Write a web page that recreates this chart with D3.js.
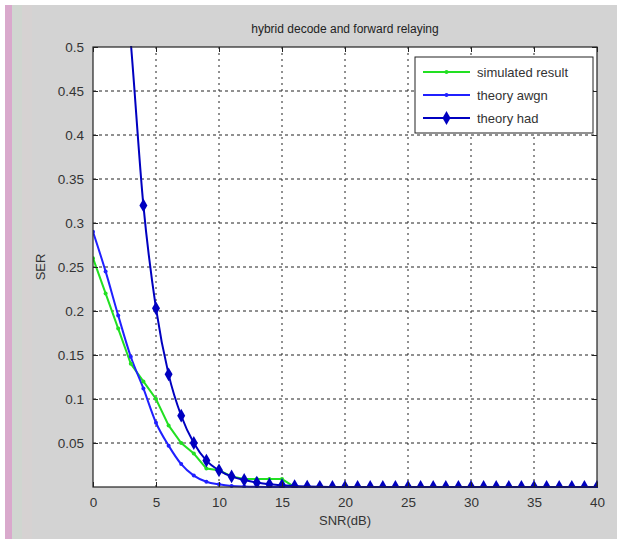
<!DOCTYPE html>
<html><head><meta charset="utf-8">
<script src="https://cdn.jsdelivr.net/npm/d3@7"></script>
<style>body{margin:0;padding:0;background:#fff;}svg{display:block;}</style>
</head><body>
<svg id="chart" width="617" height="539"></svg>
<script>
const snr = [0,1,2,3,4,5,6,7,8,9,10,11,12,13,14,15,16,17,18,19,20,21,22,23,24,25,26,27,28,29,30,31,32,33,34,35,36,37,38,39,40];
const simulated = [0.26,0.22,0.18,0.14,0.12,0.10,0.07,0.05,0.038,0.021,0.019,0.012,0.009,0.009,0.009,0.009,0,0,0,0,0,0,0,0,0,0,0,0,0,0,0,0,0,0,0,0,0,0,0,0,0];
const theoryAwgn = [0.29,0.245,0.195,0.148,0.112,0.073,0.047,0.026,0.013,0.006,0.003,0.0012,0.0005,0.0002,0.0001,0,0,0,0,0,0,0,0,0,0,0,0,0,0,0,0,0,0,0,0,0,0,0,0,0,0];
const theoryHad = [1.1,0.86,0.66,0.505,0.32,0.203,0.128,0.081,0.05,0.03,0.019,0.012,0.008,0.005,0.003,0.002,0.001,0.0005,0.0002,0.0001,0,0,0,0,0,0,0,0,0,0,0,0,0,0,0,0,0,0,0,0,0];
const xTicks = [0,5,10,15,20,25,30,35,40];
const yTicks = [0.05,0.1,0.15,0.2,0.25,0.3,0.35,0.4,0.45,0.5];
const seriesNames = ["simulated result","theory awgn","theory had"];
const seriesColors = ["#22e022","#2020ff","#0000c0"];
const titleText = "hybrid decode and forward relaying";

const svg = d3.select("#chart");
// background
svg.append("rect").attr("x",0).attr("y",0).attr("width",617).attr("height",539).attr("fill","#ffffff");
svg.append("rect").attr("x",5).attr("y",5).attr("width",612).attr("height",534).attr("fill","#d3d3d3");
svg.append("rect").attr("x",5).attr("y",5).attr("width",7).attr("height",534).attr("fill","#d9a9cc");
svg.append("rect").attr("x",12).attr("y",5).attr("width",10).attr("height",534).attr("fill","#d0d6d0");
svg.append("rect").attr("x",22).attr("y",5).attr("width",10).attr("height",534).attr("fill","#d6d2d2");

const L = 93, R = 597, T = 47, B = 487;
const x = d3.scaleLinear().domain([0,40]).range([L,R]);
const y = d3.scaleLinear().domain([0,0.5]).range([B,T]);

svg.append("rect").attr("x",L).attr("y",T).attr("width",R-L).attr("height",B-T).attr("fill","#ffffff");

// grid
const g = svg.append("g");
xTicks.forEach(t => {
  if (t === 0 || t === 40) return;
  g.append("line").attr("x1",x(t)).attr("x2",x(t)).attr("y1",T).attr("y2",B)
    .attr("stroke","#222").attr("stroke-width",1).attr("stroke-dasharray","2,4");
});
yTicks.forEach(t => {
  if (t === 0.5) return;
  g.append("line").attr("x1",L).attr("x2",R).attr("y1",y(t)).attr("y2",y(t))
    .attr("stroke","#222").attr("stroke-width",1).attr("stroke-dasharray","3,3");
});

// clip
svg.append("clipPath").attr("id","clip").append("rect").attr("x",L).attr("y",T-1).attr("width",R-L+1).attr("height",B-T+2);

const allSeries = [simulated, theoryAwgn, theoryHad];
const curves = [d3.curveLinear, d3.curveMonotoneX, d3.curveMonotoneX];
const plot = svg.append("g").attr("clip-path","url(#clip)");
const diamond = d3.symbol().type(d3.symbolDiamond).size(55);

allSeries.forEach((data, si) => {
  const line = d3.line().x((d,i)=>x(snr[i])).y(d=>y(d)).curve(curves[si]);
  plot.append("path").datum(data).attr("d",line).attr("fill","none")
    .attr("stroke",seriesColors[si]).attr("stroke-width",2);
});
allSeries.forEach((data, si) => {
  const pts = data.map((d,i)=>[snr[i],d]).filter(p => p[1] <= 0.5);
  if (si === 2) {
    plot.selectAll(null).data(pts).enter().append("path")
      .attr("d",diamond).attr("transform",p=>`translate(${x(p[0])},${y(p[1])})`)
      .attr("fill",seriesColors[si]);
  } else {
    plot.selectAll(null).data(pts).enter().append("circle")
      .attr("cx",p=>x(p[0])).attr("cy",p=>y(p[1])).attr("r",2)
      .attr("fill",seriesColors[si]);
  }
});

// axes box
svg.append("rect").attr("x",L).attr("y",T).attr("width",R-L).attr("height",B-T)
  .attr("fill","none").attr("stroke","#222").attr("stroke-width",1.2);

// axes with inward ticks
const xAxis = d3.axisBottom(x).tickValues(xTicks).tickSizeInner(-5).tickSizeOuter(0).tickPadding(10).tickFormat(d3.format("d"));
const xa = svg.append("g").attr("transform",`translate(0,${B})`).call(xAxis);
const yAxis = d3.axisLeft(y).tickValues(yTicks).tickSizeInner(-5).tickSizeOuter(0).tickPadding(9).tickFormat(d=>String(+d.toFixed(2)));
const ya = svg.append("g").attr("transform",`translate(${L},0)`).call(yAxis);
// top/right ticks
svg.append("g").attr("transform",`translate(0,${T})`).call(d3.axisTop(x).tickValues(xTicks).tickSizeInner(-5).tickSizeOuter(0).tickFormat(""));
svg.append("g").attr("transform",`translate(${R},0)`).call(d3.axisRight(y).tickValues(yTicks).tickSizeInner(-5).tickSizeOuter(0).tickFormat(""));
svg.selectAll(".domain").remove();
svg.selectAll(".tick line").attr("stroke","#222");
[xa, ya].forEach(a => a.selectAll("text").attr("font-family","Liberation Sans, Arial, sans-serif").attr("font-size",13.5).attr("fill","#333"));

// title & labels
svg.append("text").attr("x",(L+R)/2).attr("y",33).attr("text-anchor","middle")
  .attr("font-family","Liberation Sans, Arial, sans-serif").attr("font-size",12).attr("fill","#222").text(titleText);
svg.append("text").attr("x",(L+R)/2).attr("y",525).attr("text-anchor","middle")
  .attr("font-family","Liberation Sans, Arial, sans-serif").attr("font-size",13).attr("fill","#333").text("SNR(dB)");
svg.append("text").attr("transform","translate(45,267) rotate(-90)").attr("text-anchor","middle")
  .attr("font-family","Liberation Sans, Arial, sans-serif").attr("font-size",13).attr("fill","#333").text("SER");

// legend
const lg = svg.append("g");
lg.append("rect").attr("x",415).attr("y",57).attr("width",178).attr("height",76)
  .attr("fill","#ffffff").attr("stroke","#222").attr("stroke-width",1);
seriesNames.forEach((name, i) => {
  const ly = 72 + i*23;
  lg.append("line").attr("x1",423).attr("x2",470).attr("y1",ly).attr("y2",ly)
    .attr("stroke",seriesColors[i]).attr("stroke-width",2);
  if (i === 2) {
    lg.append("path").attr("d",diamond).attr("transform",`translate(446.5,${ly})`).attr("fill",seriesColors[i]);
  } else {
    lg.append("circle").attr("cx",446.5).attr("cy",ly).attr("r",2).attr("fill",seriesColors[i]);
  }
  lg.append("text").attr("x",477).attr("y",ly+4.5)
    .attr("font-family","Liberation Sans, Arial, sans-serif").attr("font-size",13).attr("fill","#333").text(name);
});
</script>
</body></html>
